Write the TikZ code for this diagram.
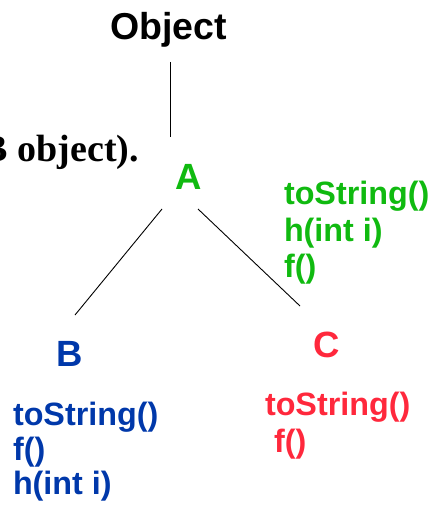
\documentclass[tikz,border=0pt]{standalone}
\usepackage{fontspec}
\setmainfont{Liberation Sans}
\newfontfamily\serifbold{Liberation Serif}
\definecolor{mgreen}{RGB}{16,186,16}
\definecolor{mblue}{RGB}{0,56,170}
\definecolor{mred}{RGB}{255,40,60}
\begin{document}
\begin{tikzpicture}[x=1pt,y=-1pt,
  every node/.style={inner sep=0pt,outer sep=0pt},
  title/.style={font=\fontsize{37.5}{40}\selectfont\bfseries,anchor=base west},
  cls/.style={font=\fontsize{36.5}{40}\selectfont\bfseries,anchor=base west},
  meth/.style={font=\fontsize{32.3}{36}\selectfont\bfseries,anchor=base west},
  edge/.style={draw=black,line width=0.9pt}]
\useasboundingbox (0,0) rectangle (433,508);
\clip (0,0) rectangle (433,508);
\node[font=\serifbold\fontsize{38}{40}\selectfont\bfseries,anchor=base east] (cap) at (139,161) {(B object).};
\node[title] (obj) at (110,40) {Object};
\node[cls,text=mgreen] (A) at (175,189) {A};
\node[cls,text=mblue] (B) at (56,366) {B};
\node[cls,text=mred] (C) at (313,357) {C};
\coordinate (o1) at (170.5,62);
\coordinate (o2) at (170.5,137);
\coordinate (ab1) at (162,209);
\coordinate (ab2) at (75,315);
\coordinate (ac1) at (198,209);
\coordinate (ac2) at (300,306);
\draw[edge] (o1) -- (o2);
\draw[edge] (ab1) -- (ab2);
\draw[edge] (ac1) -- (ac2);
\node[meth,text=mgreen] (ga) at (284,204) {toString()};
\node[meth,text=mgreen] (gb) at (284,241) {h(int i)};
\node[meth,text=mgreen] (gc) at (284,277) {f()};
\node[meth,text=mblue] (ba) at (13,425) {toString()};
\node[meth,text=mblue] (bb) at (13,460) {f()};
\node[meth,text=mblue] (bc) at (13,494) {h(int i)};
\node[meth,text=mred] (ca) at (265,415) {toString()};
\node[meth,text=mred] (cb) at (274,452) {f()};
\end{tikzpicture}
\end{document}
